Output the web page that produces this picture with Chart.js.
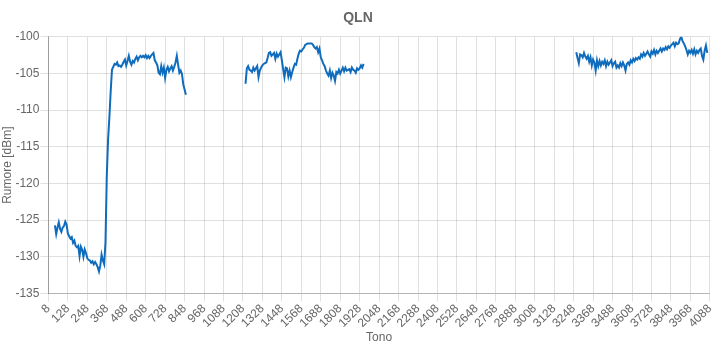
<!DOCTYPE html>
<html>
<head>
<meta charset="utf-8">
<script src="https://cdn.jsdelivr.net/npm/chart.js@4/dist/chart.umd.min.js"></script>
<style>
body { margin: 0; background: #fff; }
#wrap { width: 720px; height: 350px; }
</style>
</head>
<body>
<div id="wrap"><canvas id="qln"></canvas></div>
<script>
// tones shown on the x axis (every 8th tone, labels every 120)
var tone_first = 8;
var tone_last = 4088;
var tone_step = 8;
var label_every = 15;

// measured noise, three bands, starting tone of each band
var band1_start = 48;
var band1 = [
	-125.7,-126.9,-126.0,-125.3,-126.2,-126.6,-126.0,-125.8,-125.2,-125.6,
	-126.8,-127.2,-127.5,-127.3,-128.1,-127.8,-128.5,-128.7,-128.5,-129.9,
	-128.6,-129.0,-130.0,-129.0,-129.5,-130.2,-130.4,-130.5,-130.8,-130.6,
	-131.0,-130.7,-131.0,-131.4,-132.0,-131.2,-129.7,-130.5,-131.0,-128.0,
	-119.0,-114.0,-111.0,-107.5,-104.5,-104.1,
	-103.7,-103.8,-103.5,-104.0,-103.9,-104.1,-103.8,-103.4,-103.1,-103.9,
	-103.3,-102.6,-103.4,-103.8,-103.3,-103.5,-103.0,-102.7,-103.2,-102.8,
	-102.6,-102.8,-102.6,-102.8,-102.5,-102.9,-102.6,-102.9,-102.6,-102.4,
	-102.2,-103.2,-103.5,-103.9,-104.9,-105.1,-104.0,-104.9,-104.2,-105.6,
	-104.5,-104.1,-104.7,-104.3,-104.0,-104.6,-104.1,-103.5,-102.6,-103.8,
	-104.9,-104.6,-105.1,-106.5,-107.2,-107.9
];

var band2_start = 1224;
var band2 = [
	-106.4,-104.3,-104.0,-104.5,-104.6,-104.8,-104.2,-104.6,-104.3,-104.0,
	-105.5,-104.6,-104.2,-103.9,-103.7,-103.6,-103.5,-102.9,-102.2,-102.1,
	-102.6,-102.4,-102.2,-103.0,-102.3,-102.7,-102.4,-102.1,-103.2,-104.4,
	-105.5,-104.2,-104.3,-105.4,-104.6,-105.5,-104.8,-104.2,-103.7,-103.8,
	-103.0,-102.3,-101.9,-102.0,-101.7,-101.5,-101.1,-101.0,-100.9,-100.9,
	-100.9,-100.9,-101.1,-101.4,-101.6,-101.4,-102.1,-101.6,-102.8,-103.2,
	-103.7,-104.0,-104.6,-105.0,-105.3,-104.6,-105.6,-104.9,-105.3,-106.0,
	-104.8,-105.0,-104.5,-105.0,-104.6,-104.2,-104.7,-104.2,-104.6,-104.5,
	-104.4,-104.8,-104.2,-104.5,-104.6,-104.9,-104.3,-104.5,-104.3,-103.9,
	-104.2,-103.7
];

var band3_start = 3264;
var band3 = [
	-102.1,-102.9,-103.6,-102.4,-102.5,-102.8,-102.2,-102.7,-103.0,-102.6,
	-103.4,-102.8,-103.9,-103.1,-103.5,-104.6,-103.2,-104.0,-103.3,-103.9,
	-103.4,-103.7,-103.2,-104.0,-103.4,-103.8,-103.5,-103.2,-104.0,-103.6,
	-103.4,-104.2,-103.9,-104.2,-103.6,-104.0,-103.5,-103.9,-104.6,-103.7,
	-103.5,-103.8,-103.2,-103.5,-103.0,-103.3,-102.9,-103.1,-102.8,-103.0,
	-102.4,-102.7,-102.2,-102.6,-102.3,-102.0,-102.4,-102.7,-102.0,-102.3,
	-101.8,-102.4,-101.9,-102.2,-101.9,-101.6,-102.0,-101.6,-101.8,-101.4,
	-101.7,-101.3,-101.5,-101.2,-101.0,-100.8,-101.3,-100.8,-101.0,-100.9,
	-100.3,-100.0,-100.6,-100.9,-101.3,-101.8,-102.4,-101.9,-102.2,-101.8,
	-102.3,-101.7,-102.4,-101.9,-102.2,-101.8,-101.6,-102.6,-103.1,-101.9,
	-101.2,-102.2
];

var y_min = -135;
var y_max = -100;
var y_step = 5;

var tones = [];
for (var t = tone_first; t <= tone_last; t += tone_step) {
	tones.push(String(t));
}

var noise = tones.map(function () { return null; });
function put_band(start, values) {
	var offset = (start - tone_first) / tone_step;
	values.forEach(function (v, i) { noise[offset + i] = v; });
}
put_band(band1_start, band1);
put_band(band2_start, band2);
put_band(band3_start, band3);

Chart.defaults.font.family = "Arial, 'Liberation Sans', Helvetica, sans-serif";
Chart.defaults.font.size = 12;
Chart.defaults.color = '#666';

new Chart(document.getElementById('qln'), {
	type: 'line',
	data: {
		labels: tones,
		datasets: [{
			label: 'QLN',
			data: noise,
			borderColor: '#0f6cbd',
			backgroundColor: '#0f6cbd',
			borderWidth: 2,
			pointRadius: 0,
			pointHoverRadius: 0,
			tension: 0,
			spanGaps: false,
			fill: false
		}]
	},
	options: {
		responsive: true,
		maintainAspectRatio: false,
		animation: false,
		layout: { padding: { left: 0, right: 4, top: 0, bottom: 5 } },
		plugins: {
			legend: { display: false },
			tooltip: { enabled: false },
			title: {
				display: true,
				text: 'QLN',
				font: { size: 14, weight: 'bold' },
				color: '#666',
				padding: { top: 10, bottom: 10 }
			}
		},
		scales: {
			x: {
				ticks: {
					autoSkip: false,
					maxRotation: 45,
					minRotation: 45,
					padding: 0,
					callback: function (val, idx) {
						return idx % label_every === 0 ? tones[idx] : null;
					}
				},
				grid: { color: 'rgba(0,0,0,0.12)' },
				border: { color: 'rgba(0,0,0,0.2)' },
				title: { display: true, text: 'Tono', padding: { top: 0, bottom: 0 } }
			},
			y: {
				min: y_min,
				max: y_max,
				ticks: { stepSize: y_step, padding: 1 },
				grid: { color: 'rgba(0,0,0,0.12)' },
				border: { color: 'rgba(0,0,0,0.3)' },
				title: { display: true, text: 'Rumore [dBm]', padding: { top: 0, bottom: 0 } }
			}
		}
	}
});
</script>
</body>
</html>
